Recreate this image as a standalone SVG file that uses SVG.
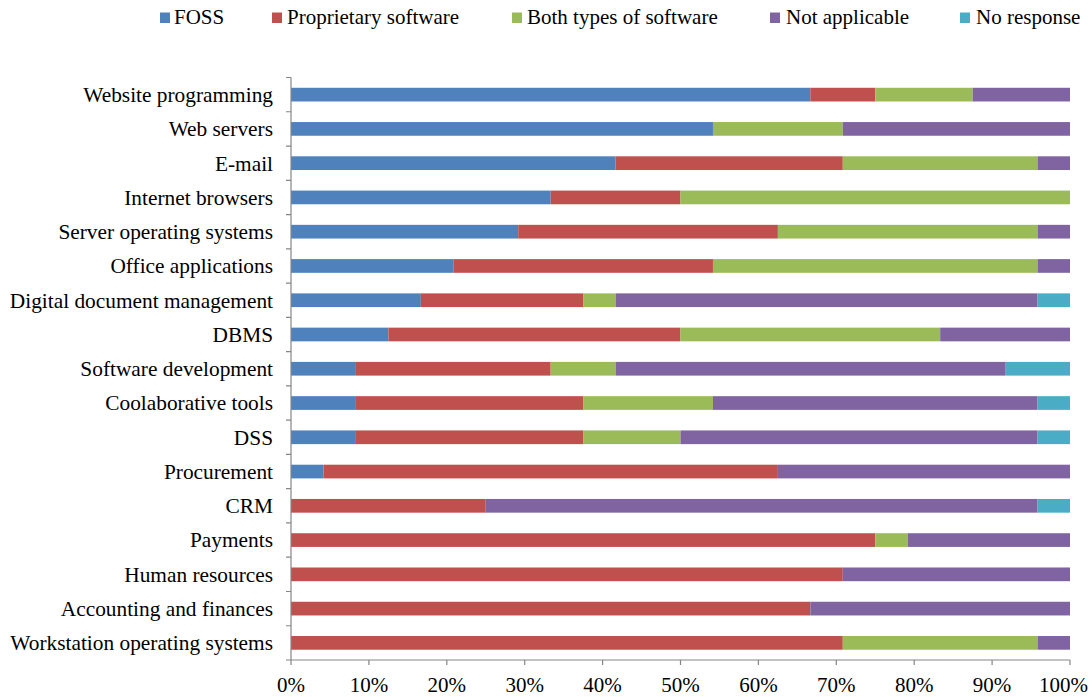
<svg xmlns="http://www.w3.org/2000/svg" width="1092" height="697" viewBox="0 0 1092 697">
<style>
text{font-family:"Liberation Serif","Times New Roman",serif;font-size:21px;fill:#000}
.lab{text-anchor:end;font-size:21.35px}
.tk{text-anchor:middle}
.f{fill:#4F81BD}.p{fill:#C0504D}.b{fill:#9BBB59}.n{fill:#8064A2}.r{fill:#4BACC6}
.ax{stroke:#868686;stroke-width:1.2;fill:none}
</style>
<rect width="1092" height="697" fill="#fff"/>
<g id="legend">
<rect class="f" x="160" y="12.5" width="10" height="10.5"/><text x="174" y="24">FOSS</text>
<rect class="p" x="272" y="12.5" width="10" height="10.5"/><text x="287" y="24">Proprietary software</text>
<rect class="b" x="512" y="12.5" width="10" height="10.5"/><text x="527" y="24">Both types of software</text>
<rect class="n" x="770" y="12.5" width="10" height="10.5"/><text x="786" y="24">Not applicable</text>
<rect class="r" x="960" y="12.5" width="10" height="10.5"/><text x="976" y="24">No response</text>
</g>
<g id="row-website-programming" transform="translate(0,87.78)">
<text class="lab" x="273" y="14.2">Website programming</text>
<rect class="f" x="291" y="0" width="519.33" height="13.7"/>
<rect class="p" x="810.33" y="0" width="64.92" height="13.7"/>
<rect class="b" x="875.25" y="0" width="97.38" height="13.7"/>
<rect class="n" x="972.63" y="0" width="97.37" height="13.7"/>
</g>
<g id="row-web-servers" transform="translate(0,122.05)">
<text class="lab" x="273" y="14.2">Web servers</text>
<rect class="f" x="291" y="0" width="421.96" height="13.7"/>
<rect class="b" x="712.96" y="0" width="129.83" height="13.7"/>
<rect class="n" x="842.79" y="0" width="227.21" height="13.7"/>
</g>
<g id="row-email" transform="translate(0,156.31)">
<text class="lab" x="273" y="14.2">E-mail</text>
<rect class="f" x="291" y="0" width="324.58" height="13.7"/>
<rect class="p" x="615.58" y="0" width="227.21" height="13.7"/>
<rect class="b" x="842.79" y="0" width="194.75" height="13.7"/>
<rect class="n" x="1037.54" y="0" width="32.46" height="13.7"/>
</g>
<g id="row-internet-browsers" transform="translate(0,190.58)">
<text class="lab" x="273" y="14.2">Internet browsers</text>
<rect class="f" x="291" y="0" width="259.67" height="13.7"/>
<rect class="p" x="550.67" y="0" width="129.83" height="13.7"/>
<rect class="b" x="680.5" y="0" width="389.5" height="13.7"/>
</g>
<g id="row-server-os" transform="translate(0,224.84)">
<text class="lab" x="273" y="14.2">Server operating systems</text>
<rect class="f" x="291" y="0" width="227.21" height="13.7"/>
<rect class="p" x="518.21" y="0" width="259.67" height="13.7"/>
<rect class="b" x="777.88" y="0" width="259.66" height="13.7"/>
<rect class="n" x="1037.54" y="0" width="32.46" height="13.7"/>
</g>
<g id="row-office" transform="translate(0,259.11)">
<text class="lab" x="273" y="14.2">Office applications</text>
<rect class="f" x="291" y="0" width="162.29" height="13.7"/>
<rect class="p" x="453.29" y="0" width="259.67" height="13.7"/>
<rect class="b" x="712.96" y="0" width="324.58" height="13.7"/>
<rect class="n" x="1037.54" y="0" width="32.46" height="13.7"/>
</g>
<g id="row-digital-doc" transform="translate(0,293.37)">
<text class="lab" x="273" y="14.2">Digital document management</text>
<rect class="f" x="291" y="0" width="129.83" height="13.7"/>
<rect class="p" x="420.83" y="0" width="162.3" height="13.7"/>
<rect class="b" x="583.13" y="0" width="32.45" height="13.7"/>
<rect class="n" x="615.58" y="0" width="421.96" height="13.7"/>
<rect class="r" x="1037.54" y="0" width="32.46" height="13.7"/>
</g>
<g id="row-dbms" transform="translate(0,327.64)">
<text class="lab" x="273" y="14.2">DBMS</text>
<rect class="f" x="291" y="0" width="97.38" height="13.7"/>
<rect class="p" x="388.38" y="0" width="292.12" height="13.7"/>
<rect class="b" x="680.5" y="0" width="259.67" height="13.7"/>
<rect class="n" x="940.17" y="0" width="129.83" height="13.7"/>
</g>
<g id="row-software-dev" transform="translate(0,361.9)">
<text class="lab" x="273" y="14.2">Software development</text>
<rect class="f" x="291" y="0" width="64.92" height="13.7"/>
<rect class="p" x="355.92" y="0" width="194.75" height="13.7"/>
<rect class="b" x="550.67" y="0" width="64.91" height="13.7"/>
<rect class="n" x="615.58" y="0" width="389.5" height="13.7"/>
<rect class="r" x="1005.08" y="0" width="64.92" height="13.7"/>
</g>
<g id="row-collab" transform="translate(0,396.17)">
<text class="lab" x="273" y="14.2">Coolaborative tools</text>
<rect class="f" x="291" y="0" width="64.92" height="13.7"/>
<rect class="p" x="355.92" y="0" width="227.21" height="13.7"/>
<rect class="b" x="583.13" y="0" width="129.83" height="13.7"/>
<rect class="n" x="712.96" y="0" width="324.58" height="13.7"/>
<rect class="r" x="1037.54" y="0" width="32.46" height="13.7"/>
</g>
<g id="row-dss" transform="translate(0,430.43)">
<text class="lab" x="273" y="14.2">DSS</text>
<rect class="f" x="291" y="0" width="64.92" height="13.7"/>
<rect class="p" x="355.92" y="0" width="227.21" height="13.7"/>
<rect class="b" x="583.13" y="0" width="97.37" height="13.7"/>
<rect class="n" x="680.5" y="0" width="357.04" height="13.7"/>
<rect class="r" x="1037.54" y="0" width="32.46" height="13.7"/>
</g>
<g id="row-procurement" transform="translate(0,464.7)">
<text class="lab" x="273" y="14.2">Procurement</text>
<rect class="f" x="291" y="0" width="32.46" height="13.7"/>
<rect class="p" x="323.46" y="0" width="454.42" height="13.7"/>
<rect class="n" x="777.88" y="0" width="292.12" height="13.7"/>
</g>
<g id="row-crm" transform="translate(0,498.96)">
<text class="lab" x="273" y="14.2">CRM</text>
<rect class="p" x="291" y="0" width="194.75" height="13.7"/>
<rect class="n" x="485.75" y="0" width="551.79" height="13.7"/>
<rect class="r" x="1037.54" y="0" width="32.46" height="13.7"/>
</g>
<g id="row-payments" transform="translate(0,533.23)">
<text class="lab" x="273" y="14.2">Payments</text>
<rect class="p" x="291" y="0" width="584.25" height="13.7"/>
<rect class="b" x="875.25" y="0" width="32.46" height="13.7"/>
<rect class="n" x="907.71" y="0" width="162.29" height="13.7"/>
</g>
<g id="row-hr" transform="translate(0,567.49)">
<text class="lab" x="273" y="14.2">Human resources</text>
<rect class="p" x="291" y="0" width="551.79" height="13.7"/>
<rect class="n" x="842.79" y="0" width="227.21" height="13.7"/>
</g>
<g id="row-accounting" transform="translate(0,601.76)">
<text class="lab" x="273" y="14.2">Accounting and finances</text>
<rect class="p" x="291" y="0" width="519.33" height="13.7"/>
<rect class="n" x="810.33" y="0" width="259.67" height="13.7"/>
</g>
<g id="row-workstation-os" transform="translate(0,636.02)">
<text class="lab" x="273" y="14.2">Workstation operating systems</text>
<rect class="p" x="291" y="0" width="551.79" height="13.7"/>
<rect class="b" x="842.79" y="0" width="194.75" height="13.7"/>
<rect class="n" x="1037.54" y="0" width="32.46" height="13.7"/>
</g>
<g id="axes">
<path class="ax" d="M291,77.5V660H1070"/>
<path class="ax" d="M286,77.5H291M286,111.77H291M286,146.03H291M286,180.3H291M286,214.56H291M286,248.83H291M286,283.09H291M286,317.36H291M286,351.62H291M286,385.89H291M286,420.15H291M286,454.42H291M286,488.68H291M286,522.95H291M286,557.21H291M286,591.48H291M286,625.74H291M286,660H291"/>
<path class="ax" d="M291,660V665M368.9,660V665M446.8,660V665M524.7,660V665M602.6,660V665M680.5,660V665M758.4,660V665M836.3,660V665M914.2,660V665M992.1,660V665M1070,660V665"/>
<text class="tk" x="291" y="692">0%</text>
<text class="tk" x="368.9" y="692">10%</text>
<text class="tk" x="446.8" y="692">20%</text>
<text class="tk" x="524.7" y="692">30%</text>
<text class="tk" x="602.6" y="692">40%</text>
<text class="tk" x="680.5" y="692">50%</text>
<text class="tk" x="758.4" y="692">60%</text>
<text class="tk" x="836.3" y="692">70%</text>
<text class="tk" x="914.2" y="692">80%</text>
<text class="tk" x="992.1" y="692">90%</text>
<text x="1088" y="692" text-anchor="end">100%</text>
</g>
</svg>
